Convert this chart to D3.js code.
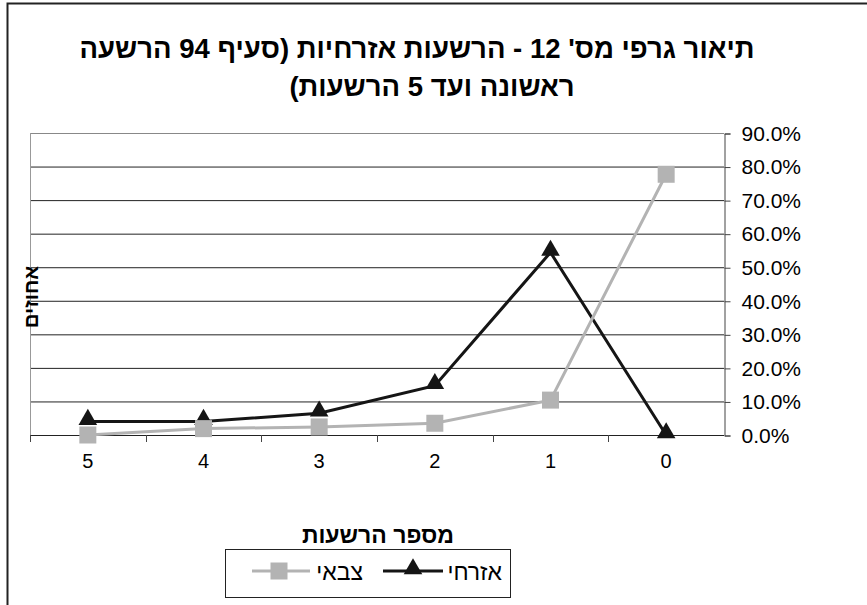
<!DOCTYPE html>
<html>
<head>
<meta charset="utf-8">
<script src="https://cdn.jsdelivr.net/npm/d3@7"></script>
<style>
  body { margin: 0; background: #fff; }
  svg { display: block; font-family: 'Liberation Sans', Arial, sans-serif; }
</style>
</head>
<body>
<svg id="chart" width="867" height="605"></svg>
<script>
const categories = [5, 4, 3, 2, 1, 0];
const civilValues = [4.0, 4.0, 6.5, 14.7, 54.4, 0.0];   // אזרחי
const militaryValues = [0.0, 1.9, 2.4, 3.5, 10.4, 77.7]; // צבאי
const yTicks = [0, 10, 20, 30, 40, 50, 60, 70, 80, 90];
const titleLines = ["תיאור גרפי מס' 12 - הרשעות אזרחיות (סעיף 94 הרשעה", 'ראשונה ועד 5 הרשעות)'];

const svg = d3.select('#chart');

const x = d3.scaleBand().domain(categories).range([30, 724]);
const y = d3.scaleLinear().domain([0, 90]).range([435, 133]);

// outer frame (runs off the right and bottom edges)
svg.append('rect')
  .attr('x', 7.5).attr('y', 3.5)
  .attr('width', 900).attr('height', 700)
  .attr('fill', 'none').attr('stroke', '#222').attr('stroke-width', 2);

// title
svg.selectAll('.title')
  .data(titleLines)
  .enter()
  .append('text')
  .attr('class', 'title')
  .attr('x', (d, i) => i === 0 ? 417 : 432)
  .attr('y', (d, i) => i === 0 ? 58 : 96)
  .attr('text-anchor', 'middle')
  .attr('direction', 'rtl')
  .attr('font-size', 27.5)
  .attr('font-weight', 'bold')
  .text((d) => d);

// gridlines
svg.append('g')
  .selectAll('line')
  .data(yTicks)
  .enter()
  .append('line')
  .attr('x1', 30).attr('x2', 724)
  .attr('y1', (d) => y(d) + 0.5).attr('y2', (d) => y(d) + 0.5)
  .attr('stroke', (d) => d === 90 ? '#888' : '#222')
  .attr('stroke-width', 1);

// left border of the plot
svg.append('line')
  .attr('x1', 30.5).attr('x2', 30.5)
  .attr('y1', y(90)).attr('y2', y(0))
  .attr('stroke', '#999');

// right value axis
const yAxis = svg.append('g')
  .attr('transform', 'translate(724.5,0.5)')
  .call(d3.axisRight(y).tickValues(yTicks).tickSize(6).tickPadding(11)
    .tickFormat((d) => d.toFixed(1) + '%'));
yAxis.select('.domain').attr('stroke', '#444');
yAxis.selectAll('.tick line').attr('stroke', '#444');
yAxis.selectAll('text')
  .attr('font-family', "'Liberation Sans', Arial, sans-serif")
  .attr('font-size', 21)
  .attr('fill', '#000');

// category axis
const xAxis = svg.append('g')
  .attr('transform', 'translate(0,435.5)')
  .call(d3.axisBottom(x).tickSize(0).tickPadding(18));
xAxis.select('.domain').remove();
xAxis.selectAll('text')
  .attr('font-family', "'Liberation Sans', Arial, sans-serif")
  .attr('font-size', 20)
  .attr('fill', '#000');
svg.append('g')
  .selectAll('line')
  .data(categories.slice(1))
  .enter()
  .append('line')
  .attr('x1', (d) => Math.round(x(d)) + 0.5).attr('x2', (d) => Math.round(x(d)) + 0.5)
  .attr('y1', 435).attr('y2', 442)
  .attr('stroke', '#444');
svg.append('line')
  .attr('x1', 30.5).attr('x2', 30.5).attr('y1', 435).attr('y2', 442).attr('stroke', '#444');

// axis titles
svg.append('text')
  .attr('transform', 'translate(38,297) rotate(-90)')
  .attr('text-anchor', 'middle')
  .attr('direction', 'rtl')
  .attr('font-size', 20.5)
  .attr('font-weight', 'bold')
  .text('אחוזים');

svg.append('text')
  .attr('x', 378).attr('y', 543)
  .attr('text-anchor', 'middle')
  .attr('direction', 'rtl')
  .attr('font-size', 23)
  .attr('font-weight', 'bold')
  .text('מספר הרשעות');

// series
const cx = (d, i) => x(categories[i]) + x.bandwidth() / 2;
const line = d3.line().x(cx).y((d) => y(d));
const tri = d3.symbol().type(d3.symbolTriangle).size(150);

svg.append('path')
  .datum(civilValues)
  .attr('d', line)
  .attr('fill', 'none').attr('stroke', '#151515').attr('stroke-width', 3);
svg.append('g')
  .selectAll('path')
  .data(civilValues)
  .enter()
  .append('path')
  .attr('d', tri)
  .attr('transform', (d, i) => `translate(${cx(d, i)},${y(d) - 2})`)
  .attr('fill', '#151515');

svg.append('path')
  .datum(militaryValues)
  .attr('d', line)
  .attr('fill', 'none').attr('stroke', '#b3b3b3').attr('stroke-width', 3);
svg.append('g')
  .selectAll('rect')
  .data(militaryValues)
  .enter()
  .append('rect')
  .attr('x', (d, i) => cx(d, i) - 8.5).attr('y', (d) => y(d) - 8.5)
  .attr('width', 17).attr('height', 17)
  .attr('fill', '#b3b3b3');

// legend
const legend = svg.append('g');
legend.append('rect')
  .attr('x', 225.5).attr('y', 549.5).attr('width', 285).attr('height', 48)
  .attr('fill', '#fff').attr('stroke', '#222');
legend.append('line')
  .attr('x1', 383).attr('x2', 443).attr('y1', 571).attr('y2', 571)
  .attr('stroke', '#151515').attr('stroke-width', 3);
legend.append('path')
  .attr('d', tri)
  .attr('transform', 'translate(413,569)')
  .attr('fill', '#151515');
legend.append('text')
  .attr('x', 502).attr('y', 580)
  .attr('text-anchor', 'start')
  .attr('direction', 'rtl')
  .attr('font-size', 23)
  .text('אזרחי');
legend.append('line')
  .attr('x1', 252).attr('x2', 310).attr('y1', 571).attr('y2', 571)
  .attr('stroke', '#b3b3b3').attr('stroke-width', 3);
legend.append('rect')
  .attr('x', 270.5).attr('y', 562.5).attr('width', 17).attr('height', 17)
  .attr('fill', '#b3b3b3');
legend.append('text')
  .attr('x', 363).attr('y', 580)
  .attr('text-anchor', 'start')
  .attr('direction', 'rtl')
  .attr('font-size', 23)
  .text('צבאי');
</script>
</body>
</html>
